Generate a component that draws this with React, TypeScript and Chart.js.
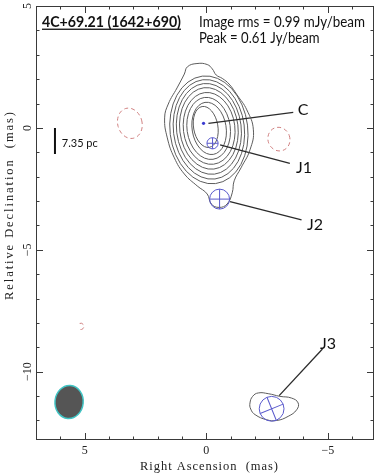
import React, { useEffect, useRef } from "react";
import { Chart, registerables } from "chart.js";
Chart.register(...registerables);

// ---- axes (mas) ----
const raMin = -6.9;
const raMax = 7.0;
const decMin = -12.8;
const decMax = 5.0;
const xMajorTicks = [5, 0, -5];
const xTickLabels = ["5", "0", "\u22125"];
const yMajorTicks = [5, 0, -5, -10];
const yTickLabels = ["5", "0", "\u22125", "\u221210"];
const xMinorTicks = [6, 4, 3, 2, 1, -1, -2, -3, -4, -6];
const yMinorTicks = [4, 3, 2, 1, -1, -2, -3, -4, -6, -7, -8, -9, -11, -12];

// ---- outermost positive contour (RA, Dec in mas) ----
const outerRA = [0.77, 0.38, -0.04, -0.25, -0.41, -0.66, -0.94, -1.27, -1.67, -1.94, -1.8, -1.43, -1.15, -1.07, -0.86, -0.53, -0.21, -0.04, 0.37, 0.9, 1.31, 1.6, 1.71, 1.56, 1.2, 0.9];
const outerDec = [2.51, 2.64, 2.6, 2.42, 2.17, 2.03, 1.8, 1.35, 0.74, -0.08, -0.9, -1.64, -2.17, -2.66, -3.12, -3.26, -3.12, -2.71, -2.38, -1.89, -1.23, -0.41, 0.41, 0.98, 1.64, 2.21];

// ---- contour around J3 ----
const j3RA = [-1.8, -1.91, -2.14, -2.55, -3.03, -3.51, -3.78, -3.72, -3.37, -2.9, -2.49, -2.01, -1.83];
const j3Dec = [-11.28, -11.01, -10.87, -10.9, -11.01, -11.08, -11.28, -11.56, -11.83, -12.0, -11.97, -11.76, -11.53];

// ---- inner contour levels (elliptical fits) ----
const innerRA = [-0.11, -0.11, -0.11, -0.11, -0.12, -0.1, -0.12, 0.02];
const innerDec = [-0.08, -0.06, -0.04, -0.02, -0.02, -0.02, -0.02, 0.04];
const innerHalfRA = [1.6, 1.46, 1.33, 1.2, 1.06, 0.89, 0.7, 0.5];
const innerHalfDec = [2.22, 2.05, 1.87, 1.68, 1.48, 1.28, 1.08, 0.85];
const innerPA = [7, 7, 7, 7, 7, 8, 9, 10];

// ---- negative (dashed) contours ----
const negRA = [3.14, -2.99, 5.16];
const negDec = [0.19, -0.46, -8.14];
const negHalfRA = [0.5, 0.45, 0.13];
const negHalfDec = [0.63, 0.49, 0.13];
const negPA = [15, 20, 0];
const negArcFrom = [0, 0, -110];
const negArcTo = [360, 360, 110];

// ---- model components ----
const coreRA = [0.11];
const coreDec = [0.19];
const jetRA = [-0.26, -0.55, -2.69];
const jetDec = [-0.63, -2.92, -11.52];
const jetRadius = [0.23, 0.41, 0.51];
const jetPA = [0, 0, 22];

// ---- component labels & leaders ----
const compLabels = ["C", "J1", "J2", "J3"];
const labelRA = [-3.98, -4.02, -4.47, -5.01];
const labelDec = [0.53, -1.86, -4.18, -9.07];
const leaderFromRA = [-0.09, -0.57, -0.98, -3.0];
const leaderFromDec = [0.19, -0.7, -3.02, -10.98];
const leaderToRA = [-3.58, -3.44, -3.92, -4.78];
const leaderToDec = [0.64, -1.45, -3.77, -9.07];

// ---- restoring beam ----
const beamRA = 5.64;
const beamDec = -11.24;
const beamHalfRA = 0.58;
const beamHalfDec = 0.68;
const beamPA = -5;

// ---- linear scale bar ----
const scaleBarRA = [6.22, 6.22];
const scaleBarDec = [0, -1.07];
const scaleBarLabel = "7.35 pc";
const scaleLabelRA = 5.94;
const scaleLabelDec = -0.64;

const sourceName = "4C+69.21 (1642+690)";
const rmsText = "Image rms = 0.99 mJy/beam";
const peakText = "Peak = 0.61 Jy/beam";
const xTitle = "Right Ascension  (mas)";
const yTitle = "Relative Declination  (mas)";

const CONTOUR = "#5c5c5c";
const COMP = "#5a5acc";
const NEG = "#d08080";

function closedData(xs: number[], ys: number[]) {
  const n = xs.length;
  const pts = xs.map((x, i) => ({ x, y: ys[i] }));
  return [pts[n - 1], ...pts, pts[0], pts[1]];
}

function closedDataset(xs: number[], ys: number[]) {
  const data = closedData(xs, ys);
  const last = data.length - 1;
  return {
    data,
    showLine: true,
    borderColor: CONTOUR,
    borderWidth: 1,
    pointRadius: 0,
    tension: 0.45,
    segment: {
      borderColor: (c: any) =>
        c.p0DataIndex === 0 || c.p1DataIndex === last ? "rgba(0,0,0,0)" : undefined,
    },
  };
}

function spacedText(ctx: CanvasRenderingContext2D, text: string, cx: number, cy: number, width: number, rot: number) {
  ctx.save();
  ctx.translate(cx, cy);
  ctx.rotate(rot);
  const chars = Array.from(text);
  const widths = chars.map((c) => ctx.measureText(c).width);
  const total = widths.reduce((a, b) => a + b, 0);
  const gap = chars.length > 1 ? (width - total) / (chars.length - 1) : 0;
  let x = -width / 2;
  ctx.textAlign = "left";
  ctx.textBaseline = "middle";
  chars.forEach((c, i) => {
    ctx.fillText(c, x, 0);
    x += widths[i] + gap;
  });
  ctx.restore();
}

function fitText(ctx: CanvasRenderingContext2D, text: string, x: number, y: number, width: number) {
  const w = ctx.measureText(text).width;
  ctx.save();
  ctx.translate(x, y);
  ctx.scale(width / w, 1);
  ctx.textAlign = "left";
  ctx.fillText(text, 0, 0);
  ctx.restore();
}

const mapPlugin = {
  id: "radioMap",
  beforeDatasetsDraw(chart: any) {
    const ctx: CanvasRenderingContext2D = chart.ctx;
    const xs = chart.scales.x, ys = chart.scales.y;
    const sx = Math.abs(xs.getPixelForValue(1) - xs.getPixelForValue(0));
    const sy = Math.abs(ys.getPixelForValue(1) - ys.getPixelForValue(0));
    const { left, right, top, bottom } = chart.chartArea;
    ctx.save();
    ctx.beginPath();
    ctx.rect(left, top, right - left, bottom - top);
    ctx.clip();
    // inner contours
    ctx.strokeStyle = CONTOUR;
    ctx.lineWidth = 1;
    innerRA.forEach((ra, i) => {
      ctx.beginPath();
      ctx.ellipse(xs.getPixelForValue(ra), ys.getPixelForValue(innerDec[i]), innerHalfRA[i] * sx, innerHalfDec[i] * sy, (-innerPA[i] * Math.PI) / 180, 0, Math.PI * 2);
      ctx.stroke();
    });
    // negative contours
    ctx.strokeStyle = NEG;
    ctx.setLineDash([4, 3]);
    negRA.forEach((ra, i) => {
      ctx.beginPath();
      ctx.ellipse(xs.getPixelForValue(ra), ys.getPixelForValue(negDec[i]), negHalfRA[i] * sx, negHalfDec[i] * sy, (-negPA[i] * Math.PI) / 180, (negArcFrom[i] * Math.PI) / 180, (negArcTo[i] * Math.PI) / 180);
      ctx.stroke();
    });
    ctx.setLineDash([]);
    // beam
    ctx.beginPath();
    ctx.ellipse(xs.getPixelForValue(beamRA), ys.getPixelForValue(beamDec), beamHalfRA * sx, beamHalfDec * sy, (-beamPA * Math.PI) / 180, 0, Math.PI * 2);
    ctx.fillStyle = "#555555";
    ctx.fill();
    ctx.strokeStyle = "#40c4c4";
    ctx.lineWidth = 1.5;
    ctx.stroke();
    ctx.restore();
  },
  afterDatasetsDraw(chart: any) {
    const ctx: CanvasRenderingContext2D = chart.ctx;
    const xs = chart.scales.x, ys = chart.scales.y;
    const sx = Math.abs(xs.getPixelForValue(1) - xs.getPixelForValue(0));
    const { left, right, top, bottom } = chart.chartArea;
    ctx.save();
    // jet components
    ctx.strokeStyle = COMP;
    ctx.lineWidth = 1;
    jetRA.forEach((ra, i) => {
      const px = xs.getPixelForValue(ra), py = ys.getPixelForValue(jetDec[i]);
      const r = jetRadius[i] * sx;
      ctx.beginPath();
      ctx.arc(px, py, r, 0, Math.PI * 2);
      ctx.stroke();
      ctx.save();
      ctx.translate(px, py);
      ctx.rotate((-jetPA[i] * Math.PI) / 180);
      ctx.beginPath();
      ctx.moveTo(-r, 0); ctx.lineTo(r, 0);
      ctx.moveTo(0, -r); ctx.lineTo(0, r);
      ctx.stroke();
      ctx.restore();
    });
    // labels
    ctx.fillStyle = "#111";
    ctx.font = "16px Lato";
    ctx.textAlign = "center";
    ctx.textBaseline = "alphabetic";
    compLabels.forEach((t, i) => {
      ctx.fillText(t, xs.getPixelForValue(labelRA[i]), ys.getPixelForValue(labelDec[i]));
    });
    // scale bar label
    ctx.font = "11px Lato";
    ctx.textAlign = "left";
    ctx.textBaseline = "middle";
    ctx.fillText(scaleBarLabel, xs.getPixelForValue(scaleLabelRA), ys.getPixelForValue(scaleLabelDec));
    // header texts
    ctx.textBaseline = "alphabetic";
    ctx.font = "bold 14.5px Lato";
    fitText(ctx, sourceName, left + 6, top + 21.3, 139);
    ctx.fillRect(left + 6, top + 22.6, 139, 1.3);
    ctx.font = "14.5px Lato";
    fitText(ctx, rmsText, left + 163, top + 21.3, 166);
    fitText(ctx, peakText, left + 163, top + 37.3, 120.6);

    // frame
    ctx.strokeStyle = "#3a3a3a";
    ctx.lineWidth = 1;
    ctx.strokeRect(left + 0.5, top + 0.5, right - left - 1, bottom - top - 1);
    // ticks
    ctx.beginPath();
    const tickX = (v: number, len: number) => {
      const p = Math.round(xs.getPixelForValue(v)) + 0.5;
      ctx.moveTo(p, bottom); ctx.lineTo(p, bottom - len);
      ctx.moveTo(p, top); ctx.lineTo(p, top + len);
    };
    const tickY = (v: number, len: number) => {
      const p = Math.round(ys.getPixelForValue(v)) + 0.5;
      ctx.moveTo(left, p); ctx.lineTo(left + len, p);
      ctx.moveTo(right, p); ctx.lineTo(right - len, p);
    };
    xMajorTicks.forEach((v) => tickX(v, 7));
    xMinorTicks.forEach((v) => tickX(v, 3.5));
    yMajorTicks.forEach((v) => tickY(v, 7));
    yMinorTicks.forEach((v) => tickY(v, 3.5));
    ctx.stroke();

    // tick labels
    ctx.fillStyle = "#222";
    ctx.font = "12px 'Liberation Serif'";
    ctx.textAlign = "center";
    ctx.textBaseline = "middle";
    xMajorTicks.forEach((v, i) => {
      ctx.fillText(xTickLabels[i], xs.getPixelForValue(v), bottom + 11);
    });
    yMajorTicks.forEach((v, i) => {
      ctx.save();
      ctx.translate(left - 8.5, ys.getPixelForValue(v));
      ctx.rotate(-Math.PI / 2);
      ctx.fillText(yTickLabels[i], 0, 0);
      ctx.restore();
    });
    // axis titles
    ctx.font = "12.5px 'Liberation Serif'";
    spacedText(ctx, xTitle, (left + right) / 2 + 4, bottom + 27, 138, 0);
    spacedText(ctx, yTitle, left - 26, (top + bottom) / 2 - 17, 188, -Math.PI / 2);
    ctx.restore();
  },
};

export default function App() {
  const ref = useRef<HTMLCanvasElement | null>(null);
  useEffect(() => {
    if (!ref.current) return;
    const leaders = leaderFromRA.map((ra, i) => ({
      data: [
        { x: ra, y: leaderFromDec[i] },
        { x: leaderToRA[i], y: leaderToDec[i] },
      ],
      showLine: true,
      borderColor: "#2b2b2b",
      borderWidth: 1.3,
      pointRadius: 0,
      tension: 0,
    }));
    const chart = new Chart(ref.current, {
      type: "scatter",
      data: {
        datasets: [
          closedDataset(outerRA, outerDec) as any,
          closedDataset(j3RA, j3Dec) as any,
          ...leaders,
          {
            data: scaleBarRA.map((x, i) => ({ x, y: scaleBarDec[i] })),
            showLine: true,
            borderColor: "#111",
            borderWidth: 2,
            pointRadius: 0,
          },
          {
            data: coreRA.map((x, i) => ({ x, y: coreDec[i] })),
            pointRadius: 1.6,
            pointBackgroundColor: "#3b3bd0",
            pointBorderWidth: 0,
            showLine: false,
          },
        ],
      },
      options: {
        animation: false,
        responsive: true,
        maintainAspectRatio: false,
        layout: { padding: { top: 6, right: 8, left: 0, bottom: 0 } },
        plugins: { legend: { display: false }, tooltip: { enabled: false } },
        events: [],
        scales: {
          x: {
            type: "linear",
            min: raMin,
            max: raMax,
            reverse: true,
            ticks: { display: false, stepSize: 5, includeBounds: false },
            grid: { display: false },
            border: { display: false },
            afterFit: (s: any) => { s.height = 33; },
          },
          y: {
            type: "linear",
            min: decMin,
            max: decMax,
            ticks: { display: false, stepSize: 5, includeBounds: false },
            grid: { display: false },
            border: { display: false },
            afterFit: (s: any) => { s.width = 36; },
          },
        },
      },
      plugins: [mapPlugin],
    });
    return () => chart.destroy();
  }, []);
  return (
    <div style={{ position: "absolute", left: 0, top: 0, width: 382, height: 473, background: "#fff" }}>
      <canvas ref={ref} />
    </div>
  );
}
